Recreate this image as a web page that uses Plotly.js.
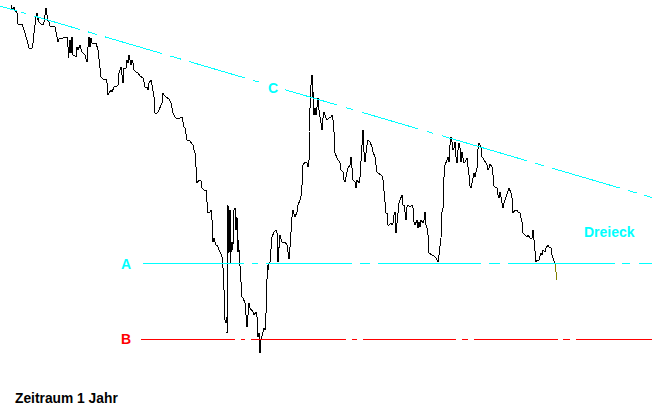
<!DOCTYPE html>
<html>
<head>
<meta charset="utf-8">
<script src="https://cdn.plot.ly/plotly-3.0.1.min.js"></script>
<style>
html,body{margin:0;padding:0;background:#fff;}
#chart{width:652px;height:416px;}
#chart .scatterlayer path, #chart .shapelayer path{shape-rendering:crispEdges;}
</style>
</head>
<body>
<div id="chart"></div>
<script>
// Handelstage (Index) und Kurs
const tage = [11,12,14,15,17,17,18,21,22,23,24,25,27,28,29,32,33,34,35,36,37,37,38,39,41,43,44,45,46,47,48,49,50,53,55,56,57,58,59,61,63,67,68,68,69,70,71,72,73,74,76,77,78,80,82,83,85,87,87,88,89,90,91,92,96,98,99,100,
101,103,106,107,107,108,109,111,112,113,114,117,118,119,121,122,123,123,124,126,127,128,129,131,132,133,134,136,138,140,143,144,145,147,148,149,151,152,153,154,155,157,158,160,162,163,164,166,169,171,172,173,175,177,178,180,182,183,184,185,186,187,189,191,193,194,195,196,197,199,
201,202,204,206,207,208,210,211,212,213,214,216,217,218,219,220,221,222,222,223,224,225,226,227,227,228,228,229,230,230,231,232,232,233,234,235,236,237,238,238,239,240,241,242,243,245,247,248,249,250,252,253,254,256,257,258,258,259,260,261,263,264,265,266,266,267,268,268,269,270,271,272,274,276,277,278,278,279,280,282,285,287,288,289,290,291,292,293,295,297,298,300,
301,302,303,305,307,308,309,309,310,311,312,312,313,314,315,316,317,318,319,321,322,323,324,326,327,329,331,332,333,334,335,337,338,340,341,343,344,345,347,348,350,351,352,353,355,356,357,359,360,361,362,363,363,364,365,367,368,370,372,373,375,377,378,380,382,383,384,385,386,387,388,389,391,392,393,394,395,396,397,398,399,400,
401,402,403,404,405,406,407,408,410,412,413,413,414,415,417,418,419,420,421,423,424,425,426,427,428,429,432,434,436,438,439,441,442,443,443,444,445,447,448,449,449,450,451,452,453,454,455,456,457,458,459,460,461,462,463,464,465,467,468,469,469,471,473,474,475,477,477,478,479,481,482,483,485,487,488,489,490,492,493,493,495,497,498,499,500,
501,503,504,506,508,509,511,512,513,515,517,518,520,522,523,525,527,528,530,532,533,534,535,536,537,539,541,542,543,545,546,548,549,551,552,553,554,555];
const kurs = [411,406,409,406,403,393,392,391,392,388,384,383,376,371,368,368,373,383,393,399,403,396,398,394,392,391,394,401,408,401,395,394,390,390,389,384,379,374,377,378,378,379,369,358,363,376,363,379,361,361,359,369,366,371,364,363,361,354,359,369,379,369,378,373,373,366,358,349,
339,337,337,333,324,321,323,326,324,328,329,330,331,343,349,341,333,346,348,348,356,353,361,351,356,353,346,344,343,340,338,334,329,329,326,333,336,331,326,319,303,303,304,308,313,323,321,319,317,313,308,303,299,297,298,298,299,294,289,288,283,276,276,273,271,266,263,249,233,236,
235,228,226,226,213,203,204,206,196,174,178,171,171,168,166,164,162,159,156,148,126,96,93,99,83,179,211,163,206,153,163,174,166,171,206,208,186,199,164,176,166,153,136,119,118,113,89,103,113,108,106,104,101,104,99,83,79,83,63,76,84,88,86,103,123,143,151,146,153,154,169,179,184,186,183,154,169,168,181,174,174,171,164,157,169,186,199,206,199,204,211,216,
220,231,251,254,253,249,256,284,318,331,341,318,324,301,308,301,309,318,306,291,286,298,304,298,296,298,299,301,296,284,263,258,256,253,246,244,236,234,244,248,251,259,248,236,234,228,236,233,239,254,271,279,286,264,254,271,276,274,269,264,259,244,243,241,240,236,224,211,203,203,191,191,193,191,193,201,204,183,194,204,213,216,
218,221,211,211,204,196,209,211,209,211,208,201,194,191,196,188,194,189,196,193,196,204,191,188,181,163,161,160,158,154,161,178,204,208,226,241,251,256,259,254,259,271,279,274,266,268,274,259,253,266,273,268,254,264,256,253,254,258,249,241,232,228,238,243,239,248,261,266,273,269,259,258,254,251,246,248,252,249,241,231,229,228,221,218,224,
219,208,213,219,223,228,223,218,203,206,206,204,203,194,183,181,179,181,178,178,186,176,159,154,156,156,163,161,166,164,168,171,169,168,161,158,154,152];
// letzter Tag (gelb)
const letzteTage = [555, 557];
const letzteKurse = [152, 136];

// Linien: A (Unterstützung), B (Tief), C (Abwärtstrend)
const levelA = 153, levelB = 77;
const startA = 143, startB = 141, ende = 652;
const trendStart = 410, trendEnde = 218.5;

const labels = ['A', 'B', 'C', 'Dreieck'];
const labelX = [125.5, 125.5, 272.5, 609.5];
const labelY = [152, 77, 328.5, 184];
const labelColor = ['#00ffff', '#ff0000', '#00ffff', '#00ffff'];

const FONT = '"Liberation Sans", Arial, sans-serif';

const traces = [
  {x: tage, y: kurs, type: 'scatter', mode: 'lines', line: {color: '#000000', width: 1}, hoverinfo: 'skip'},
  {x: letzteTage, y: letzteKurse, type: 'scatter', mode: 'lines', line: {color: '#808000', width: 1}, hoverinfo: 'skip'}
];

const annotations = labels.map((t, i) => ({
  x: labelX[i], y: labelY[i], xref: 'x', yref: 'y', text: '<b>' + t + '</b>', showarrow: false,
  xanchor: 'center', yanchor: 'middle', font: {family: FONT, size: 14, color: labelColor[i]}
}));
annotations.push({
  x: 13/652, y: 1 - 398/416, xref: 'paper', yref: 'paper', text: '<b>Zeitraum 1 Jahr</b>', showarrow: false,
  xanchor: 'left', yanchor: 'middle', font: {family: FONT, size: 13.8, color: '#000000'}
});

const shapes = [
  {type: 'line', xref: 'x', yref: 'y', x0: 0, x1: ende, y0: trendStart, y1: trendEnde,
   line: {color: '#00ffff', width: 1, dash: '17.7px,4.2px,5.2px,8.3px,47.9px,8.3px,9.4px,8.3px,59.4px,8.3px,11.5px,8.3px,58.4px,8.3px,6.3px,27.1px,54.2px,9.4px,7.3px,9.4px,58.4px,9.4px,6.3px,9.4px,88.6px,8.3px,9.4px,8.3px,70.9px,8.3px,9.4px,7.3px,40px'}},
  {type: 'line', xref: 'x', yref: 'y', x0: startA, x1: ende, y0: levelA, y1: levelA,
   line: {color: '#00ffff', width: 1, dash: '101px,8px,6px,8px,86px,8px,10px,8px,103px,8px,11px,8px,107px,7px,8px,9px,40px'}},
  {type: 'line', xref: 'x', yref: 'y', x0: startB, x1: ende, y0: levelB, y1: levelB,
   line: {color: '#ff0000', width: 1, dash: '94px,6px,4px,6px,95px,6px,5px,6px,93px,6px,6px,6px,84px,5px,7px,6px,90px'}}
];

const layout = {
  width: 652, height: 416,
  margin: {l: 0, r: 0, t: 0, b: 0, pad: 0},
  paper_bgcolor: '#ffffff', plot_bgcolor: '#ffffff',
  showlegend: false,
  xaxis: {range: [0, 652], visible: false, fixedrange: true},
  yaxis: {range: [0, 416], visible: false, fixedrange: true},
  annotations: annotations,
  shapes: shapes
};

Plotly.newPlot('chart', traces, layout, {displayModeBar: false, staticPlot: true});
</script>
</body>
</html>
